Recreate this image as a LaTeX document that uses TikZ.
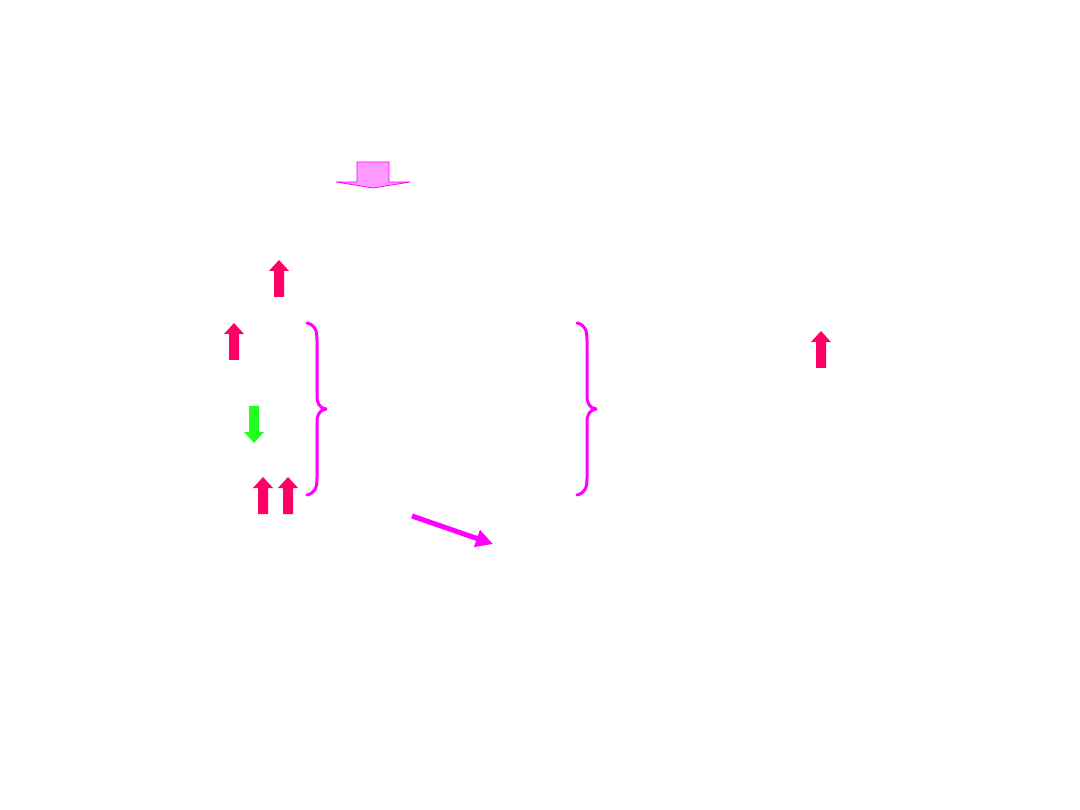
\documentclass[tikz,border=0pt]{standalone}
\usetikzlibrary{arrows.meta}
\definecolor{upred}{HTML}{FF0066}
\definecolor{downgreen}{HTML}{22FF22}
\definecolor{mag}{HTML}{FF00FF}
\definecolor{lightmag}{HTML}{FF99FF}
\tikzset{
  blockarrow/.pic={
    \fill[pic actions] (0,0) -- (10,11) -- (5,11) -- (5,37) -- (-5,37) -- (-5,11) -- (-10,11) -- cycle;
  },
  upstyle/.style={fill=upred},
  downstyle/.style={fill=downgreen},
  bracestyle/.style={draw=mag, line width=3pt, line cap=round, line join=round},
}
\begin{document}
\begin{tikzpicture}[x=1pt,y=-1pt]
\useasboundingbox[fill=white] (0,0) rectangle (1080,810);
% top hollow arrow
\draw[draw=mag, fill=lightmag, line width=0.8pt]
  (357,162) -- (389,162) -- (389,182) -- (410,182) -- (373,188) -- (336,182) -- (357,182) -- cycle;
% red up arrows
\pic[upstyle] at (279,260) {blockarrow};
\pic[upstyle] at (234,323) {blockarrow};
\pic[upstyle] at (263,477) {blockarrow};
\pic[upstyle] at (288,477) {blockarrow};
\pic[upstyle] at (821,331) {blockarrow};
% green down arrow
\pic[downstyle, yscale=-1] at (254,443) {blockarrow};
% left brace
\draw[bracestyle] (307,323) .. controls (315,325) and (317,330) .. (317,340)
  -- (317,396) .. controls (317,404) and (320,408) .. (326,409)
  .. controls (320,410) and (317,414) .. (317,422)
  -- (317,478) .. controls (317,488) and (315,493) .. (307,495);
% right brace
\draw[bracestyle] (577,323) .. controls (585,325) and (587,330) .. (587,340)
  -- (587,396) .. controls (587,404) and (590,408) .. (596,409)
  .. controls (590,410) and (587,414) .. (587,422)
  -- (587,478) .. controls (587,488) and (585,493) .. (577,495);
% diagonal arrow
\coordinate (dstart) at (412,516);
\coordinate (dend) at (493,544);
\draw[mag, line width=5pt, -{Triangle[length=17pt,width=17pt]}] (dstart) -- (dend);
\end{tikzpicture}
\end{document}
